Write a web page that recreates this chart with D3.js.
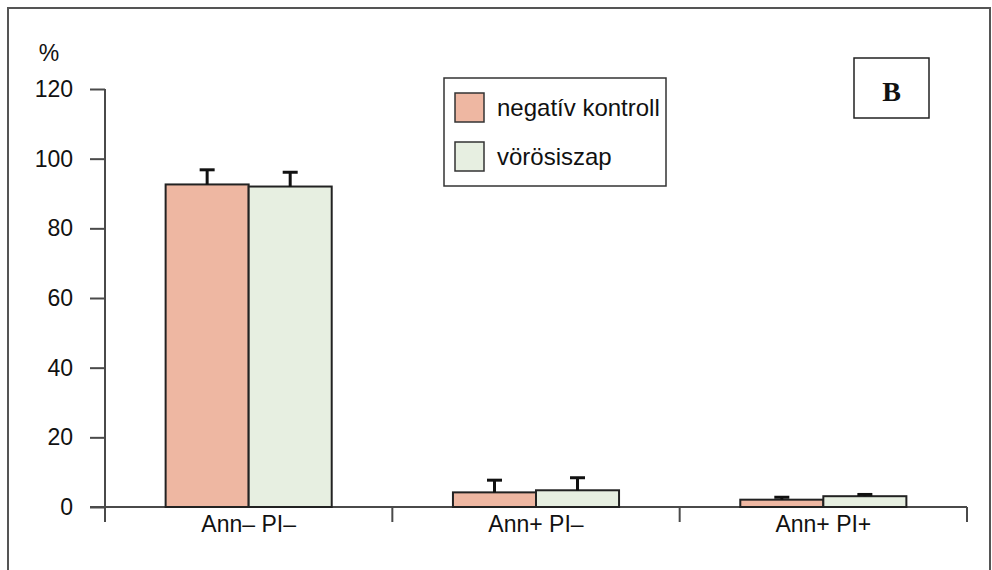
<!DOCTYPE html>
<html>
<head>
<meta charset="utf-8">
<script src="https://cdn.jsdelivr.net/npm/d3@7"></script>
<style>
  body { margin: 0; background: #fff; }
  svg { display: block; font-family: "Liberation Sans", Arial, sans-serif; }
</style>
</head>
<body>
<script>
// data
var categories = ["Ann\u2013 PI\u2013", "Ann+ PI\u2013", "Ann+ PI+"];
var series = ["negatív kontroll", "vörösiszap"];
var negValues = [92.6, 4.2, 2.1];
var negErrors = [4.2, 3.5, 0.7];
var redValues = [92.0, 4.8, 3.1];
var redErrors = [4.1, 3.6, 0.5];
var yTicks = [0, 20, 40, 60, 80, 100, 120];
var colors = ["#eeb7a2", "#e7efe1"];

var W = 992, H = 570;
var svg = d3.select("body").append("svg").attr("width", W).attr("height", H);

// outer frame
svg.append("rect")
  .attr("x", 8).attr("y", 8).attr("width", 982).attr("height", 580)
  .attr("fill", "none").attr("stroke", "#555").attr("stroke-width", 2);

var y = d3.scaleLinear().domain([0, 120]).range([507, 89]);
var x0 = d3.scaleBand().domain(categories).range([105, 967]).padding(0);
var x1 = d3.scaleBand().domain(series).range([0, x0.bandwidth()]).paddingInner(0).paddingOuter(0.73);

var rows = categories.map(function (c, i) {
  return [
    {cat: c, s: series[0], v: negValues[i], e: negErrors[i], col: colors[0]},
    {cat: c, s: series[1], v: redValues[i], e: redErrors[i], col: colors[1]}
  ];
});

var axisCol = "#4a4a4a";
var fontSz = 23;

// y axis
var yAxis = d3.axisLeft(y).tickValues(yTicks).tickSize(15).tickSizeOuter(0).tickPadding(17);
var gy = svg.append("g").attr("transform", "translate(105,0)").call(yAxis);
gy.select(".domain").remove();
gy.selectAll(".tick line").attr("stroke", axisCol).attr("stroke-width", 2);
gy.selectAll(".tick text").attr("font-size", fontSz).attr("fill", "#111")
  .attr("font-family", "'Liberation Sans', Arial, sans-serif");
svg.append("line")
  .attr("x1", 105).attr("x2", 105).attr("y1", y(120)).attr("y2", y(0) + 15)
  .attr("stroke", axisCol).attr("stroke-width", 2);

// x axis
svg.append("line")
  .attr("x1", 90).attr("x2", x0.range()[1]).attr("y1", y(0)).attr("y2", y(0))
  .attr("stroke", axisCol).attr("stroke-width", 2);
var bounds = categories.map(function (c) { return x0(c); }).concat([x0.range()[1]]);
svg.selectAll(".xtick").data(bounds).enter().append("line")
  .attr("x1", function (d) { return d; }).attr("x2", function (d) { return d; })
  .attr("y1", y(0)).attr("y2", y(0) + 15)
  .attr("stroke", axisCol).attr("stroke-width", 2);
var xAxis = d3.axisBottom(x0).tickSize(0).tickPadding(9);
var gx = svg.append("g").attr("transform", "translate(0," + y(0) + ")").call(xAxis);
gx.select(".domain").remove();
gx.selectAll(".tick text").attr("font-size", fontSz).attr("fill", "#111")
  .attr("font-family", "'Liberation Sans', Arial, sans-serif");

// bars
var groups = svg.selectAll(".grp").data(rows).enter().append("g")
  .attr("transform", function (d, i) { return "translate(" + x0(categories[i]) + ",0)"; });

groups.selectAll("rect").data(function (d) { return d; }).enter().append("rect")
  .attr("x", function (d) { return x1(d.s); })
  .attr("y", function (d) { return y(d.v); })
  .attr("width", x1.bandwidth())
  .attr("height", function (d) { return y(0) - y(d.v); })
  .attr("fill", function (d) { return d.col; })
  .attr("stroke", "#222").attr("stroke-width", 2);

// error bars
groups.selectAll(".stem").data(function (d) { return d; }).enter().append("line")
  .attr("x1", function (d) { return x1(d.s) + x1.bandwidth() / 2; })
  .attr("x2", function (d) { return x1(d.s) + x1.bandwidth() / 2; })
  .attr("y1", function (d) { return y(d.v); })
  .attr("y2", function (d) { return y(d.v + d.e); })
  .attr("stroke", "#111").attr("stroke-width", 3);
groups.selectAll(".cap").data(function (d) { return d; }).enter().append("line")
  .attr("x1", function (d) { return x1(d.s) + x1.bandwidth() / 2 - 7.5; })
  .attr("x2", function (d) { return x1(d.s) + x1.bandwidth() / 2 + 7.5; })
  .attr("y1", function (d) { return y(d.v + d.e); })
  .attr("y2", function (d) { return y(d.v + d.e); })
  .attr("stroke", "#111").attr("stroke-width", 3);

// % label
svg.append("text").attr("x", 49).attr("y", 61).attr("text-anchor", "middle")
  .attr("font-size", fontSz).attr("fill", "#111").text("%");

// legend
var lg = svg.append("g").attr("transform", "translate(444,78)");
lg.append("rect").attr("width", 222).attr("height", 108)
  .attr("fill", "#fff").attr("stroke", "#333").attr("stroke-width", 1.5);
series.forEach(function (s, i) {
  lg.append("rect").attr("x", 11).attr("y", 15 + i * 49).attr("width", 29).attr("height", 29)
    .attr("fill", colors[i]).attr("stroke", "#333").attr("stroke-width", 1.5);
  lg.append("text").attr("x", 53).attr("y", 38 + i * 49)
    .attr("font-size", 24).attr("fill", "#111").text(s);
});

// panel letter
svg.append("rect").attr("x", 854).attr("y", 58).attr("width", 75).attr("height", 60)
  .attr("fill", "#fff").attr("stroke", "#222").attr("stroke-width", 1.5);
svg.append("text").attr("x", 891.5).attr("y", 101).attr("text-anchor", "middle")
  .attr("font-family", "'Liberation Serif', 'Times New Roman', serif")
  .attr("font-weight", "bold").attr("font-size", 28).attr("fill", "#111").text("B");
</script>
</body>
</html>
